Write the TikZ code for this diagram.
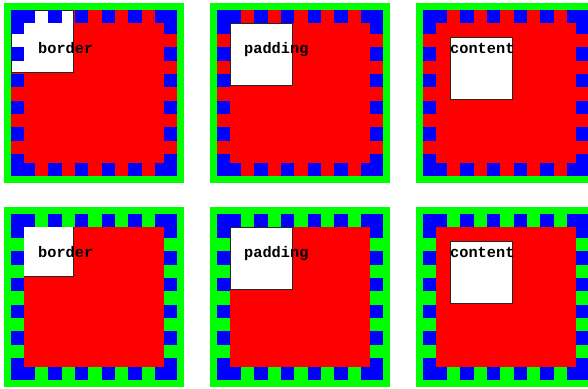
\documentclass[tikz,border=0pt]{standalone}
\usepackage{fontspec}
\newfontfamily\labelfont{Liberation Mono}
\usetikzlibrary{positioning}
\definecolor{bggreen}{RGB}{0,255,0}
\definecolor{dashblue}{RGB}{0,0,255}
\definecolor{bgred}{RGB}{255,0,0}

% #1,#2 corner, #3 clip inset, #4 image origin inset, #5 node name, #6 label
\newcommand{\originpanel}[6]{%
  \begin{scope}[shift={(#1,#2)}]
    \fill[bggreen] (0,0) rectangle (180,180);
    \fill[bgred] (#3,#3) rectangle (180-#3,180-#3);
    \begin{scope}
      \clip (#3,#3) rectangle (180-#3,180-#3);
      \draw[imgbox] (#4,#4) rectangle ++(62,62);
    \end{scope}
    % dashed border: corners, then dashes
    \foreach \a/\b in {7/31,151/173}
      \foreach \c/\d in {7/20,160/173}{
        \fill[dashblue] (\a,\c) rectangle (\b,\d);
        \fill[dashblue] (\c,\a) rectangle (\d,\b);
      }
    \foreach \a in {44.3,71,97.7,124.3}
      \foreach \c/\d in {7/20,160/173}{
        \fill[dashblue] (\a,\c) rectangle (\a+13.4,\d);
        \fill[dashblue] (\c,\a) rectangle (\d,\a+13.4);
      }
    \node[lbl] (#5) at (34,50.5) {#6};
  \end{scope}}

\begin{document}
\begin{tikzpicture}[x=1pt,y=-1pt,
  imgbox/.style={fill=white,draw=black!85,line width=1pt},
  lbl/.style={anchor=base west,inner sep=0pt,text=black,font=\fontsize{15.3}{15.3}\selectfont\labelfont\bfseries}
]
\useasboundingbox (0,0) rectangle (588,388);
\clip (0,0) rectangle (588,388);

\originpanel{4}{3}{7}{7}{bordertop}{border}
\originpanel{210}{3}{7}{20}{paddingtop}{padding}
\originpanel{416}{3}{7}{34}{contenttop}{content}

\originpanel{4}{207}{20}{7}{borderbot}{border}
\originpanel{210}{207}{20}{20}{paddingbot}{padding}
\originpanel{416}{207}{20}{34}{contentbot}{content}
\end{tikzpicture}
\end{document}
